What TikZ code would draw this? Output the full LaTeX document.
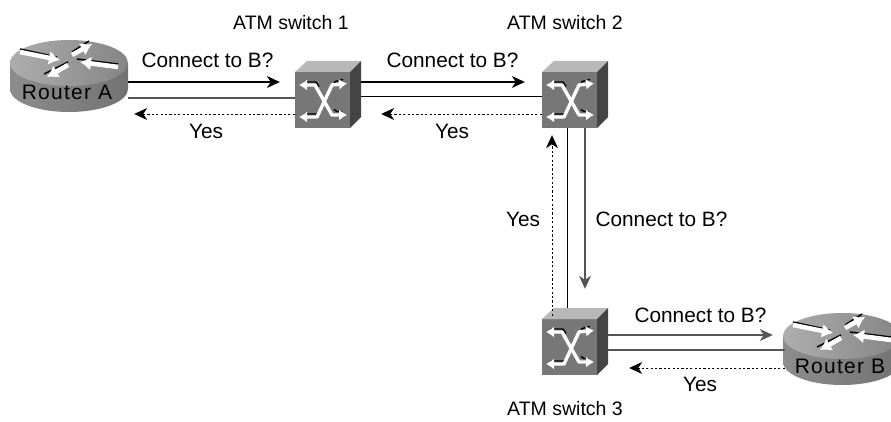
\documentclass[tikz,border=0pt]{standalone}
\usepackage{fontspec}
\setmainfont{Liberation Sans}
\newfontfamily\routerfont{Liberation Sans}[LetterSpace=6]
\usepackage{tikz}
\usetikzlibrary{arrows.meta}
\definecolor{frontgrey}{HTML}{777777}
\definecolor{topgrey}{HTML}{B8B8B8}
\definecolor{sidegrey}{HTML}{444444}
\definecolor{linegrey}{HTML}{555555}
\tikzset{
    label text/.style={font=\fontsize{20.8}{24}\selectfont, anchor=base, inner sep=0pt},
    name text/.style={font=\fontsize{19.5}{24}\selectfont, anchor=base, inner sep=0pt},
    request/.style={line width=1.1pt, -{Stealth[length=13pt,width=12pt,inset=4pt]}},
    reply/.style={line width=0.9pt, dash pattern=on 2.2pt off 2.2pt, -{Stealth[length=13pt,width=12pt,inset=4pt]}},
    trunk/.style={line width=1pt},
    glyph/.style={line width=3.4pt, white, {Latex[length=8pt,width=11pt]}-{Latex[length=8pt,width=11pt]}, line join=round},
    glyph edge/.style={line width=1.4pt, black, line join=round},
    atmswitch/.pic={
        \node[minimum width=66pt, minimum height=67pt, inner sep=0pt] (-box) at (0,0) {};
        \fill[frontgrey] (-33,-22.5) rectangle (22,33.5);
        \fill[topgrey] (-33,-22.5) -- (22,-22.5) -- (33,-33.5) -- (-21,-33.5) -- cycle;
        \fill[sidegrey] (22,-22.5) -- (33,-33.5) -- (33,22.5) -- (22,33.5) -- cycle;
        % Draw the crossing arrows
        \draw[glyph edge] (-24,-12.5) -- (-12,-12.5) -- (-9,-8);
        \draw[glyph edge] (5,-8) -- (7,-13) -- (15,-15);
        \draw[glyph edge] (-24,19.5) -- (-11,19.5) -- (-8,16);
        \draw[glyph edge] (6,15) -- (9,17) -- (14,17);
        \draw[glyph] (-29,-9.5) -- (-13,-9.5) -- (4,20.5) -- (19,20.5);
        \draw[glyph] (-29,22.5) -- (-11,22.5) -- (4,-9.5) -- (19,-11);
    },
    router/.pic={
        \node[minimum width=118pt, minimum height=72pt, inner sep=0pt] (-box) at (0,0) {};
        \shade[left color=black!45, middle color=black!8, right color=black!55]
            (-59,-13) -- (-59,13) arc[start angle=180, end angle=0, x radius=59, y radius=23] -- (59,-13) -- cycle;
        \shade[left color=black!32, right color=black!48]
            (0,-13) ellipse[x radius=59, y radius=23];
        % Draw the four arrows on the lid
        \foreach \tailx/\taily/\headx/\heady in {-49/-24/-9/-16, 3/-21/23/-32, 49/-9/11/-14, -1/-11/-22/1} {
            \draw[line width=1.5pt] (\tailx,\taily-3) -- (\headx-3,\heady-3);
            \draw[line width=4.6pt, white, -{Latex[length=11pt,width=14pt]}] (\tailx,\taily) -- (\headx,\heady);
        }
        \node[font=\routerfont\fontsize{21}{24}\selectfont, anchor=base, inner sep=0pt] (-name) at (-2,24) {#1};
    }
}
\begin{document}
\begin{tikzpicture}[x=1pt,y=-1pt]
    \clip (0,0) rectangle (891,422);
    % Define devices
    \pic (routerA) at (69,76) {router={Router A}};
    \pic (routerB) at (842,349) {router={Router B}};
    \pic (sw1) at (328,94.5) {atmswitch};
    \pic (sw2) at (575,94.5) {atmswitch};
    \pic (sw3) at (575,341.5) {atmswitch};

    % Draw links
    \draw[request] ([yshift=-6pt]routerA-box.east) -- ([xshift=-15pt,yshift=12.5pt]sw1-box.west);
    \draw[trunk,linegrey,line width=1.8pt] ([yshift=-22pt]routerA-box.east) -- ([yshift=-3.5pt]sw1-box.west);
    \draw[reply] ([yshift=-19.5pt]sw1-box.west) -- ([xshift=6pt,yshift=-38pt]routerA-box.east);

    \draw[request] ([yshift=12.5pt]sw1-box.east) -- ([xshift=-17pt,yshift=12.5pt]sw2-box.west);
    \draw[trunk] ([yshift=-2pt]sw1-box.east) -- ([yshift=-2pt]sw2-box.west);
    \draw[reply] ([yshift=-19.5pt]sw2-box.west) -- ([xshift=20pt,yshift=-19.5pt]sw1-box.east);

    \draw[trunk] ([xshift=-8pt]sw2-box.south) -- ([xshift=-8pt]sw3-box.north);
    \draw[request,linegrey,line width=1.5pt] ([xshift=10pt]sw2-box.south) -- ([xshift=10pt,yshift=19pt]sw3-box.north);
    \draw[reply] ([xshift=-23pt,yshift=-8pt]sw3-box.north) -- ([xshift=-23pt,yshift=-7pt]sw2-box.south);

    \draw[request,linegrey,line width=1.5pt] ([yshift=6.5pt]sw3-box.east) -- ([xshift=-10pt,yshift=14pt]routerB-box.west);
    \draw[trunk,linegrey,line width=1.8pt] ([yshift=-8.5pt]sw3-box.east) -- ([xshift=2pt,yshift=-1pt]routerB-box.west);
    \draw[reply] ([xshift=2pt,yshift=-19pt]routerB-box.west) -- ([xshift=21pt,yshift=-26.5pt]sw3-box.east);

    % Labels
    \node[name text] (nameA) at (291,29.5) {ATM switch 1};
    \node[name text] (nameB) at (565,29.5) {ATM switch 2};
    \node[name text] (nameC) at (565,415) {ATM switch 3};
    \foreach \x/\y/\tag in {207.5/68/c1, 452.5/68/c2, 661.5/226/c3, 700.5/322/c4} {
        \node[label text] (\tag) at (\x,\y) {Connect to B?};
    }
    \foreach \x/\y/\tag in {206/139/y1, 452/139/y2, 523/226/y3, 700/391/y4} {
        \node[label text] (\tag) at (\x,\y) {Yes};
    }
\end{tikzpicture}
\end{document}
